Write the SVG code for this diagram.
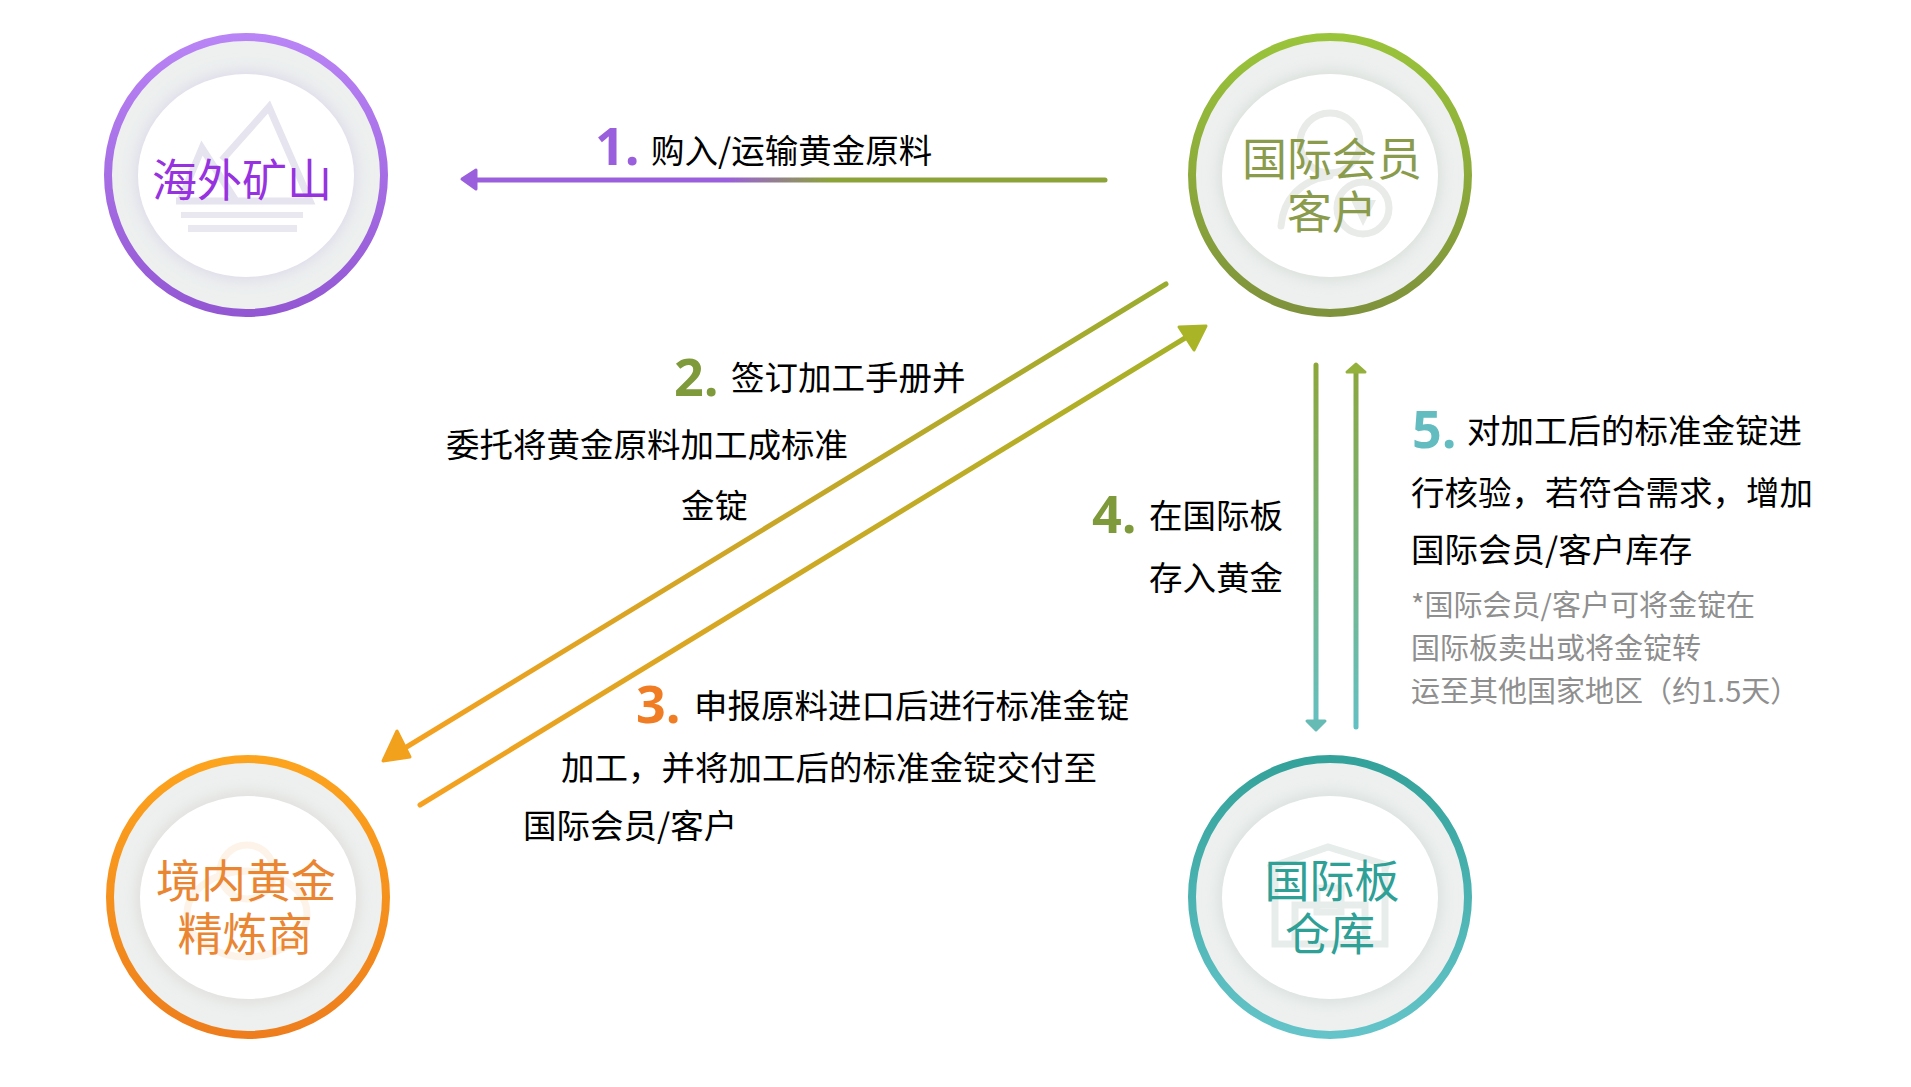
<svg xmlns="http://www.w3.org/2000/svg" width="1911" height="1087" viewBox="0 0 1911 1087">
<style>
text{font-family:"Noto Sans CJK SC","Noto Sans",sans-serif}
.t{font-size:33.500px;fill:#000}
.n{font-size:52px;font-weight:700;font-family:"Open Sans","Noto Sans",sans-serif}
.g{font-size:29px;fill:#8f8f8f}
.h{font-size:45px;text-anchor:middle}
.ring{fill:#edf0ef;stroke-width:8}
.core{fill:#fff}
.icon{fill:none;stroke-width:7}
.c{fill:none;stroke-linecap:round}
.head{stroke-width:3;stroke-linejoin:round}
</style>
<defs>
<filter id="b" x="-30%" y="-30%" width="160%" height="160%"><feGaussianBlur stdDeviation="8"/></filter>
<linearGradient id="rp" x1="0" y1="0" x2="0" y2="1"><stop offset="0" stop-color="#b984f6"/><stop offset="1" stop-color="#9357d3"/></linearGradient>
<linearGradient id="rg" x1="0" y1="0" x2="0" y2="1"><stop offset="0" stop-color="#9ac43a"/><stop offset="1" stop-color="#7f923c"/></linearGradient>
<linearGradient id="ro" x1="0" y1="0" x2="0" y2="1"><stop offset="0" stop-color="#fda41e"/><stop offset="1" stop-color="#ee7e1d"/></linearGradient>
<linearGradient id="rt" x1="0" y1="0" x2="0" y2="1"><stop offset="0" stop-color="#33a29a"/><stop offset="1" stop-color="#64c4c9"/></linearGradient>
<linearGradient id="a1" gradientUnits="userSpaceOnUse" x1="461" y1="0" x2="1105" y2="0"><stop offset="0.42" stop-color="#9a5fdc"/><stop offset="0.58" stop-color="#8ca33a"/></linearGradient>
<linearGradient id="a2" gradientUnits="userSpaceOnUse" x1="1166" y1="284" x2="400" y2="752"><stop offset="0" stop-color="#9aac2f"/><stop offset="1" stop-color="#f6a11f"/></linearGradient>
<linearGradient id="a3" gradientUnits="userSpaceOnUse" x1="420" y1="805" x2="1190" y2="335"><stop offset="0" stop-color="#f6a11f"/><stop offset="1" stop-color="#a5b128"/></linearGradient>
<linearGradient id="a4" gradientUnits="userSpaceOnUse" x1="0" y1="364" x2="0" y2="732"><stop offset="0" stop-color="#8ca63a"/><stop offset="1" stop-color="#62c0c4"/></linearGradient>
</defs>

<g id="node-mine">
<circle class="ring" cx="246" cy="175" r="138" stroke="url(#rp)"/>
<ellipse cx="246" cy="175.500" rx="110" ry="104" fill="#dcd8ea" filter="url(#b)"/>
<ellipse class="core" cx="246" cy="175.500" rx="108" ry="101.500"/>
<path class="icon" stroke="#e5e4ef" d="M176 201H310L269 107L222 160M180 201L202 148L236 201" stroke-width="6"/>
<rect x="181" y="212" width="122" height="6" fill="#e9e8f1"/>
<rect x="188" y="225" width="109" height="7" fill="#e9e8f1"/>
<text class="h" x="242" y="197" fill="#9632e0">海外矿山</text>
</g>

<g id="node-client">
<circle class="ring" cx="1330" cy="175" r="138" stroke="url(#rg)"/>
<ellipse cx="1330" cy="175.500" rx="110" ry="104" fill="#d8ddd8" filter="url(#b)"/>
<ellipse class="core" cx="1330" cy="175.500" rx="108" ry="101.500"/>
<circle class="icon" stroke="#e8ebe7" cx="1330" cy="143" r="30"/>
<path class="icon" stroke="#e8ebe7" stroke-linecap="round" d="M1281 226C1283 200 1300 180 1330 176"/>
<circle class="icon" stroke="#e8ebe7" cx="1363" cy="208" r="26"/>
<path d="M1351 200H1376L1363 226Z" fill="#e8ebe7"/>
<text class="h" x="1332" y="176" fill="#8a9c4c">国际会员</text>
<text class="h" x="1332" y="229" fill="#8a9c4c">客户</text>
</g>

<g id="node-refiner">
<circle class="ring" cx="248" cy="897" r="138" stroke="url(#ro)"/>
<ellipse cx="248" cy="897.500" rx="110" ry="104" fill="#dedcd8" filter="url(#b)"/>
<ellipse class="core" cx="248" cy="897.500" rx="108" ry="101.500"/>
<circle class="icon" stroke="#fdf3e8" cx="247" cy="872" r="27"/>
<ellipse class="icon" stroke="#fdf3e8" cx="247" cy="914" rx="60" ry="43"/>
<text class="h" x="246" y="898" fill="#ea8532">境内黄金</text>
<text class="h" x="245" y="951" fill="#ea8532">精炼商</text>
</g>

<g id="node-warehouse">
<circle class="ring" cx="1330" cy="897" r="138" stroke="url(#rt)"/>
<ellipse cx="1330" cy="897.500" rx="110" ry="104" fill="#d6dedc" filter="url(#b)"/>
<ellipse class="core" cx="1330" cy="897.500" rx="108" ry="101.500"/>
<path class="icon" stroke="#e7edeb" stroke-width="8" d="M1268 868L1328 847L1390 866M1275 866V944H1385V866M1295 944V905H1365V944"/>
<rect x="1317" y="888" width="24" height="24" class="icon" stroke="#e7edeb"/>
<text class="h" x="1332" y="898" fill="#2ea096">国际板</text>
<text class="h" x="1330" y="951" fill="#2ea096">仓库</text>
</g>

<g id="connectors">
<path class="c" stroke="url(#a1)" stroke-width="5" d="M1110 180H476" transform="translate(-5 0)"/>
<path class="head" fill="#9a5fdc" stroke="#9a5fdc" d="M462 179L476 170V189Z"/>
<path class="c" stroke="url(#a2)" stroke-width="5" d="M1166 284L400 751"/>
<path class="head" fill="#f2a11c" stroke="#f2a11c" d="M383 761L410 757L397 731Z"/>
<path class="c" stroke="url(#a3)" stroke-width="5" d="M420 805L1190 335"/>
<path class="head" fill="#a9b526" stroke="#a9b526" d="M1206 326L1194 350L1179 327Z"/>
<path class="c" stroke="url(#a4)" stroke-width="5" d="M1322 365V722" transform="translate(-6 0)"/>
<path class="head" fill="#66bcb4" stroke="#66bcb4" d="M1316 730L1307 721H1325Z"/>
<path class="c" stroke="url(#a4)" stroke-width="5" d="M1362 730V374" transform="translate(-6 -3)"/>
<path class="head" fill="#93b13c" stroke="#93b13c" d="M1356 364L1347 372H1365Z"/>
</g>

<g id="labels">
<text class="n" x="595" y="165" fill="#9a5fdc">1.</text>
<text class="t" x="651" y="163">购入/运输黄金原料</text>
<text class="n" x="674" y="396" fill="#7e9a3a">2.</text>
<text class="t" x="731" y="390">签订加工手册并</text>
<text class="t" x="446" y="457">委托将黄金原料加工成标准</text>
<text class="t" x="681" y="518">金锭</text>
<text class="n" x="636" y="723" fill="#f07d23">3.</text>
<text class="t" x="694" y="718">申报原料进口后进行标准金锭</text>
<text class="t" x="561" y="780">加工，并将加工后的标准金锭交付至</text>
<text class="t" x="523" y="838">国际会员/客户</text>
<text class="n" x="1092" y="533" fill="#7e9a3a">4.</text>
<text class="t" x="1149" y="528">在国际板</text>
<text class="t" x="1149" y="590">存入黄金</text>
<text class="n" x="1412" y="448" fill="#62bcc0">5.</text>
<text class="t" x="1467" y="443">对加工后的标准金锭进</text>
<text class="t" x="1411" y="505">行核验，若符合需求，增加</text>
<text class="t" x="1411" y="562">国际会员/客户库存</text>
<text class="g" x="1411" y="616">*国际会员/客户可将金锭在</text>
<text class="g" x="1411" y="659">国际板卖出或将金锭转</text>
<text class="g" x="1411" y="702">运至其他国家地区（约1.5天）</text>
</g>
</svg>
